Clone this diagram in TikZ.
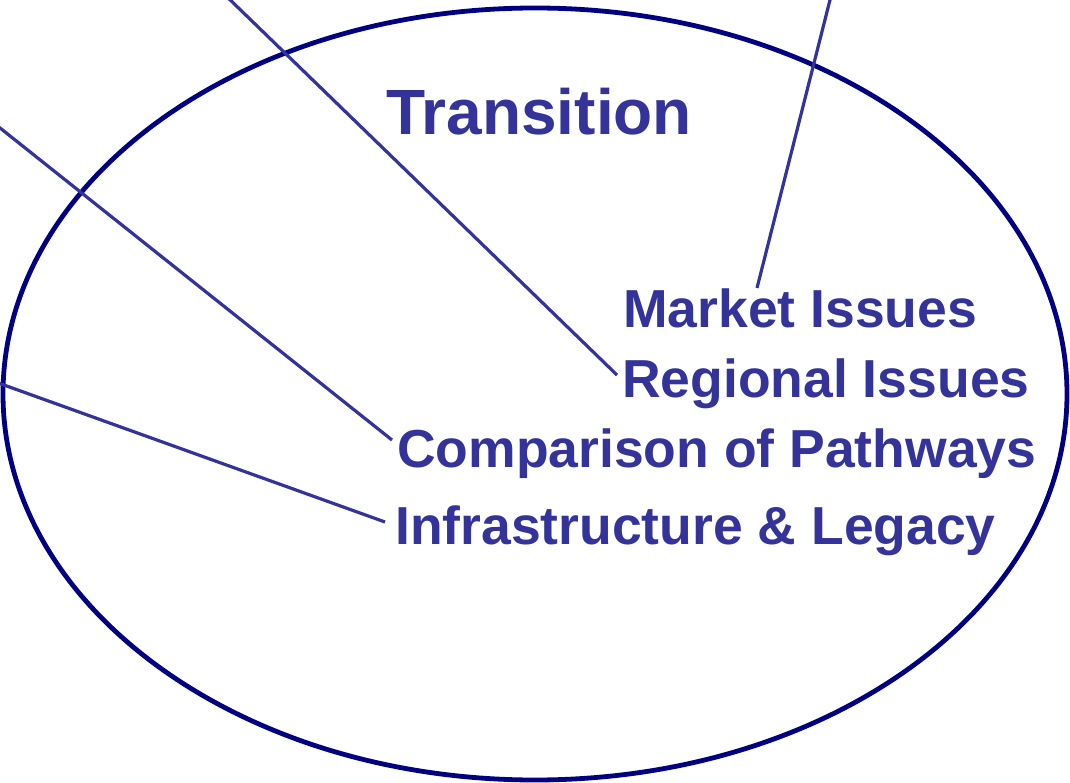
\documentclass[tikz,border=0pt]{standalone}
\usepackage{fontspec}
\setmainfont{Liberation Sans}
\usepackage{tikz}
\definecolor{labelblue}{HTML}{333399}
\definecolor{rimblue}{HTML}{000080}
\tikzset{
  issue/.style={anchor=base west, inner sep=0pt, text=labelblue, font=\fontsize{53.5}{60}\selectfont\bfseries},
  feed/.style={draw=labelblue, line width=3.2pt},
}
\begin{document}
\begin{tikzpicture}[x=1pt, y=-1pt]
\useasboundingbox (0,0) rectangle (1070,783);
\clip (0,0) rectangle (1070,783);
\draw[rimblue, line width=4.8pt] (535,394) ellipse [x radius=532, y radius=386]; %outer ring
\node[issue, font=\fontsize{64}{70}\selectfont\bfseries] (title) at (386,135) {Transition};
\node[issue] (market) at (623,327) {Market Issues};
\node[issue] (regional) at (622,397) {Regional Issues};
\node[issue] (pathways) at (397,467) {Comparison of Pathways};
\node[issue] (legacy) at (395,544) {Infrastructure \& Legacy};
% free ends, outside the picture
\coordinate (mIn) at (832,-8);
\coordinate (rIn) at (222,-8);
\coordinate (pIn) at (-10,120);
\coordinate (lIn) at (-10,380);
\draw[feed] (mIn) -- ([shift={(134,-39)}]market.base west);
\draw[feed] (rIn) -- ([shift={(-5,-22)}]regional.base west);
\draw[feed] (pIn) -- ([shift={(-5,-27)}]pathways.base west);
\draw[feed] (lIn) -- ([shift={(-10,-22)}]legacy.base west);
\end{tikzpicture}
\end{document}
